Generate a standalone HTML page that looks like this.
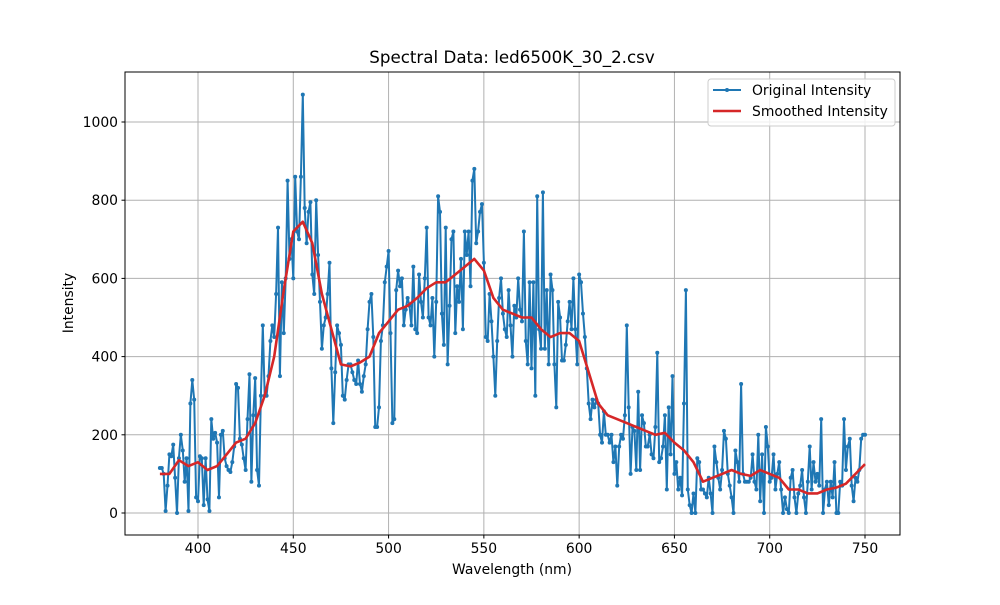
<!DOCTYPE html>
<html><head><meta charset="utf-8"><style>
body{margin:0;background:#fff;}
svg text{font-family:"DejaVu Sans","Liberation Sans",sans-serif;fill:#000;}
</style></head><body>
<svg id="chart" width="1000" height="600">
<rect width="1000" height="600" fill="#fff"/>
<g id="grid"></g>
<g id="axes"></g>
<g id="series"></g>
<rect x="125" y="72" width="775" height="463" fill="none" stroke="#000" stroke-width="1"/>
<text x="512" y="63" text-anchor="middle" font-size="16.7">Spectral Data: led6500K_30_2.csv</text>
<text x="512" y="574" text-anchor="middle" font-size="13.9">Wavelength (nm)</text>
<text transform="translate(73,303) rotate(-90)" text-anchor="middle" font-size="13.9">Intensity</text>
<g>
<rect x="708" y="79" width="187" height="47" rx="3" fill="#fff" fill-opacity="0.8" stroke="#ccc"/>
<g>
<line x1="713" y1="90" x2="741" y2="90" stroke="#1f77b4" stroke-width="2"/>
<circle cx="727" cy="90" r="2" fill="#1f77b4"/>
<text x="752" y="95" font-size="13.9">Original Intensity</text></g>
<g>
<line x1="713" y1="111" x2="741" y2="111" stroke="#d62728" stroke-width="2.6"/>
<text x="752" y="116" font-size="13.9">Smoothed Intensity</text></g>
</g>
</svg>
<script>
const xTicks=[400,450,500,550,600,650,700,750];
const yTicks=[0,200,400,600,800,1000];
const rawStart=380;
const rawValues=[115,115,100,5,70,150,145,175,90,0,
140,200,160,80,140,5,280,340,290,40,
30,145,140,20,140,35,5,240,190,205,
180,40,200,210,140,120,110,105,130,170,
330,320,190,175,140,110,240,355,80,250,
345,110,70,300,480,300,300,350,440,480,
450,560,730,350,590,460,600,850,650,700,
600,860,720,700,860,1070,780,690,770,795,
610,560,800,660,540,420,480,500,560,640,
370,230,360,480,460,430,300,290,340,380,
380,360,340,330,390,330,310,350,380,470,
540,560,450,220,220,270,440,480,590,630,
670,460,230,240,570,620,580,600,480,520,
550,530,480,630,470,460,610,540,500,600,
730,500,480,550,400,540,810,770,510,430,
730,380,530,700,720,460,580,540,650,470,
720,660,720,580,850,880,690,720,770,790,
640,450,440,560,490,400,300,440,550,600,
510,470,450,570,480,400,530,500,600,520,
490,720,440,380,590,370,590,300,810,470,
420,820,420,570,380,610,570,380,270,540,
500,390,390,430,490,540,470,600,470,380,
610,590,510,450,370,280,240,290,270,290,
280,200,180,260,200,200,180,200,130,170,
70,170,200,190,250,480,270,100,220,210,
110,310,110,250,230,170,170,200,150,140,
220,410,130,140,170,250,60,270,150,350,
100,130,60,90,45,280,570,60,20,0,
50,0,140,130,60,60,50,40,90,50,
0,170,130,90,60,110,210,190,100,70,
40,0,160,130,80,330,100,80,80,80,
90,150,80,60,200,30,150,0,220,170,
80,90,150,60,100,130,60,0,40,10,
0,90,110,40,0,50,70,110,40,0,
80,170,60,130,80,100,70,240,0,60,
80,20,80,40,130,0,0,80,70,240,
110,170,190,70,30,90,80,110,190,200,
200];
const smoothStart=380;
const smoothValues=[100,100,135,120,130,110,120,150,180,190,230,300,400,570,720,745,690,560,470,380,375,385,400,460,490,520,530,550,575,590,590,610,630,650,620,550,520,510,500,500,470,450,460,460,440,360,280,250,240,230,220,210,200,205,180,160,130,80,90,100,110,100,95,110,100,90,60,60,50,50,60,65,75,100,125];
const NS='http://www.w3.org/2000/svg';
const X=v=>198+(v-400)*(865-198)/350;
const Y=v=>513-v*(513-122)/1000;
const grid=document.getElementById('grid'),axes=document.getElementById('axes'),series=document.getElementById('series');
function mk(tag,attrs,parent){const e=document.createElementNS(NS,tag);for(const k in attrs)e.setAttribute(k,attrs[k]);parent.appendChild(e);return e;}
xTicks.forEach(t=>{const x=X(t);
const g=mk('line',{x1:x,x2:x,y1:72,y2:535,stroke:'#b0b0b0','stroke-width':1},grid);


mk('line',{x1:x,x2:x,y1:535,y2:538.5,stroke:'#000'},axes);
const l=mk('text',{x:x,y:553,'text-anchor':'middle','font-size':13.9},axes);l.textContent=t;

});
yTicks.forEach(t=>{const y=Y(t);
const g=mk('line',{x1:125,x2:900,y1:y,y2:y,stroke:'#b0b0b0','stroke-width':1},grid);


mk('line',{x1:121.5,x2:125,y1:y,y2:y,stroke:'#000'},axes);
const l=mk('text',{x:118,y:y+5,'text-anchor':'end','font-size':13.9},axes);l.textContent=t;

});
const rp=rawValues.map((v,i)=>X(rawStart+i).toFixed(1)+','+Y(v).toFixed(1)).join(' ');
const rl=mk('polyline',{points:rp,fill:'none',stroke:'#1f77b4','stroke-width':2,'stroke-linejoin':'round'},series);


rawValues.forEach((v,i)=>{const c=mk('circle',{cx:X(rawStart+i),cy:Y(v),r:2,fill:'#1f77b4'},series);

});
const sp=smoothValues.map((v,i)=>X(smoothStart+i*5).toFixed(1)+','+Y(v).toFixed(1)).join(' ');
const sl=mk('polyline',{points:sp,fill:'none',stroke:'#d62728','stroke-width':2.6,'stroke-linejoin':'round'},series);


</script>
</body></html>
